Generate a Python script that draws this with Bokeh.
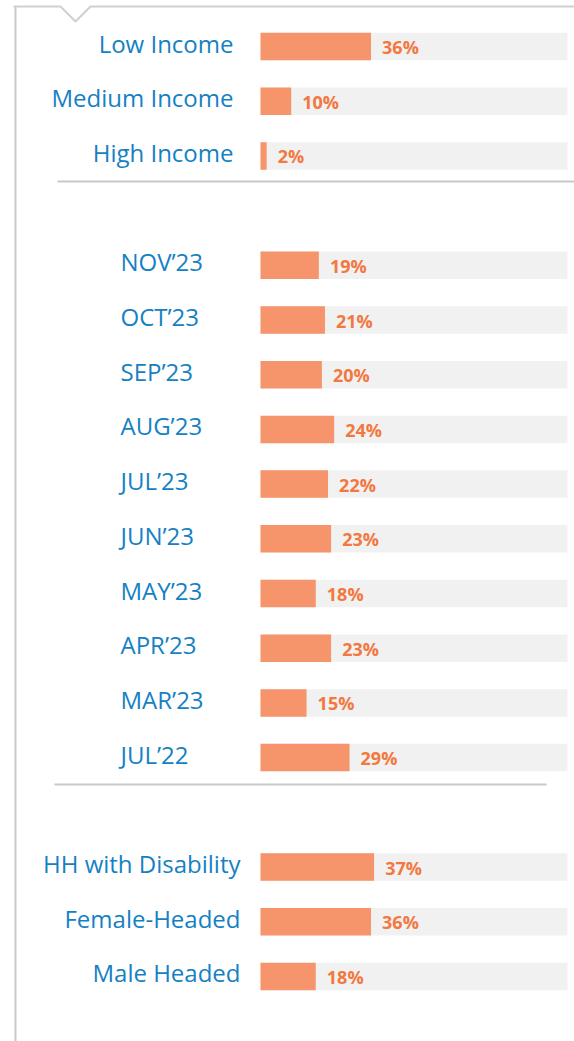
from bokeh.plotting import figure
from bokeh.models import ColumnDataSource, Range1d
from bokeh.core.properties import value
from bokeh.embed import file_html
from bokeh.resources import INLINE

# ---- data ----
income_labels = ["Low Income", "Medium Income", "High Income"]
income_values = [36, 10, 2]

month_labels = ["NOV’23", "OCT’23", "SEP’23", "AUG’23", "JUL’23",
                "JUN’23", "MAY’23", "APR’23", "MAR’23", "JUL’22"]
month_values = [19, 21, 20, 24, 22, 23, 18, 23, 15, 29]

hh_labels = ["HH with Disability", "Female-Headed", "Male Headed"]
hh_values = [37, 36, 18]

# ---- styles ----
BLUE = "#1581c3"
BAR = "#f6956b"
PCT = "#f27840"
TRACK = "#f1f1f1"
RULE = "#c8c8c8"
FONT = "Open Sans"

W, H = 574, 1041
PX_PER_PCT = 3.07     # horizontal scale (pixels per percent)
ROW_PX = 54.7         # vertical spacing between rows (pixels)
X0_PX = 260           # pixel where 0% sits
Y0_PX = 46            # pixel of first row centre


def px_x(px):
    return (px - X0_PX) / PX_PER_PCT


def px_y(py):
    return (py - Y0_PX) / ROW_PX


# rows: sections separated by one empty row
sections = [
    (income_labels, income_values, 0, "right", px_x(233)),
    (month_labels, month_values, len(income_labels) + 1, "left", px_x(120)),
    (hh_labels, hh_values, len(income_labels) + 1 + len(month_labels) + 1, "right", px_x(240)),
]

p = figure(width=W, height=H, output_backend="svg", toolbar_location=None,
           x_range=Range1d(-X0_PX / PX_PER_PCT, (W - X0_PX) / PX_PER_PCT),
           y_range=Range1d((H - Y0_PX) / ROW_PX, -Y0_PX / ROW_PX),
           x_axis_location=None, y_axis_location=None, min_border=0)
p.grid.visible = False
p.outline_line_color = None
p.background_fill_color = "white"
p.border_fill_color = "white"

BAR_H = 27.5 / ROW_PX

for labels, vals, start, align, lx in sections:
    rows = [start + i for i in range(len(labels))]
    src = ColumnDataSource(dict(
        y=rows, v=vals, full=[100] * len(vals),
        lab=labels, pct=[f"{v}%" for v in vals],
        ly=[r - 3.5 / ROW_PX for r in rows],
        py=[r + 0.5 / ROW_PX for r in rows],
        px=[v + 3.6 for v in vals],
        lx=[lx] * len(vals),
    ))
    p.hbar(y="y", left=0, right="full", height=BAR_H, source=src,
           fill_color=TRACK, line_color=None)
    p.hbar(y="y", left=0, right="v", height=BAR_H, source=src,
           fill_color=BAR, line_color=None)
    p.text(x="lx", y="ly", text="lab", source=src, text_align=align,
           text_baseline="alphabetic", text_font=value(FONT),
           text_font_size="24px", text_color=BLUE)
    p.text(x="px", y="py", text="pct", source=src, text_align="left",
           text_baseline="alphabetic", text_font=value(FONT),
           text_font_style="bold", text_font_size="18px", text_color=PCT)

# ---- decorative frame & separators ----
p.line([px_x(57), px_x(580)], [px_y(181)] * 2, line_color=RULE, line_width=2)
p.line([px_x(54), px_x(546)], [px_y(784)] * 2, line_color=RULE, line_width=2)
p.line([px_x(15)] * 2, [px_y(6), px_y(1050)], line_color=RULE, line_width=2)
p.line([px_x(13), px_x(60), px_x(75), px_x(90), px_x(580)],
       [px_y(6), px_y(6), px_y(21), px_y(6), px_y(6)],
       line_color="#d0d0d0", line_width=2)

open("out.html", "w").write(file_html(p, INLINE))
